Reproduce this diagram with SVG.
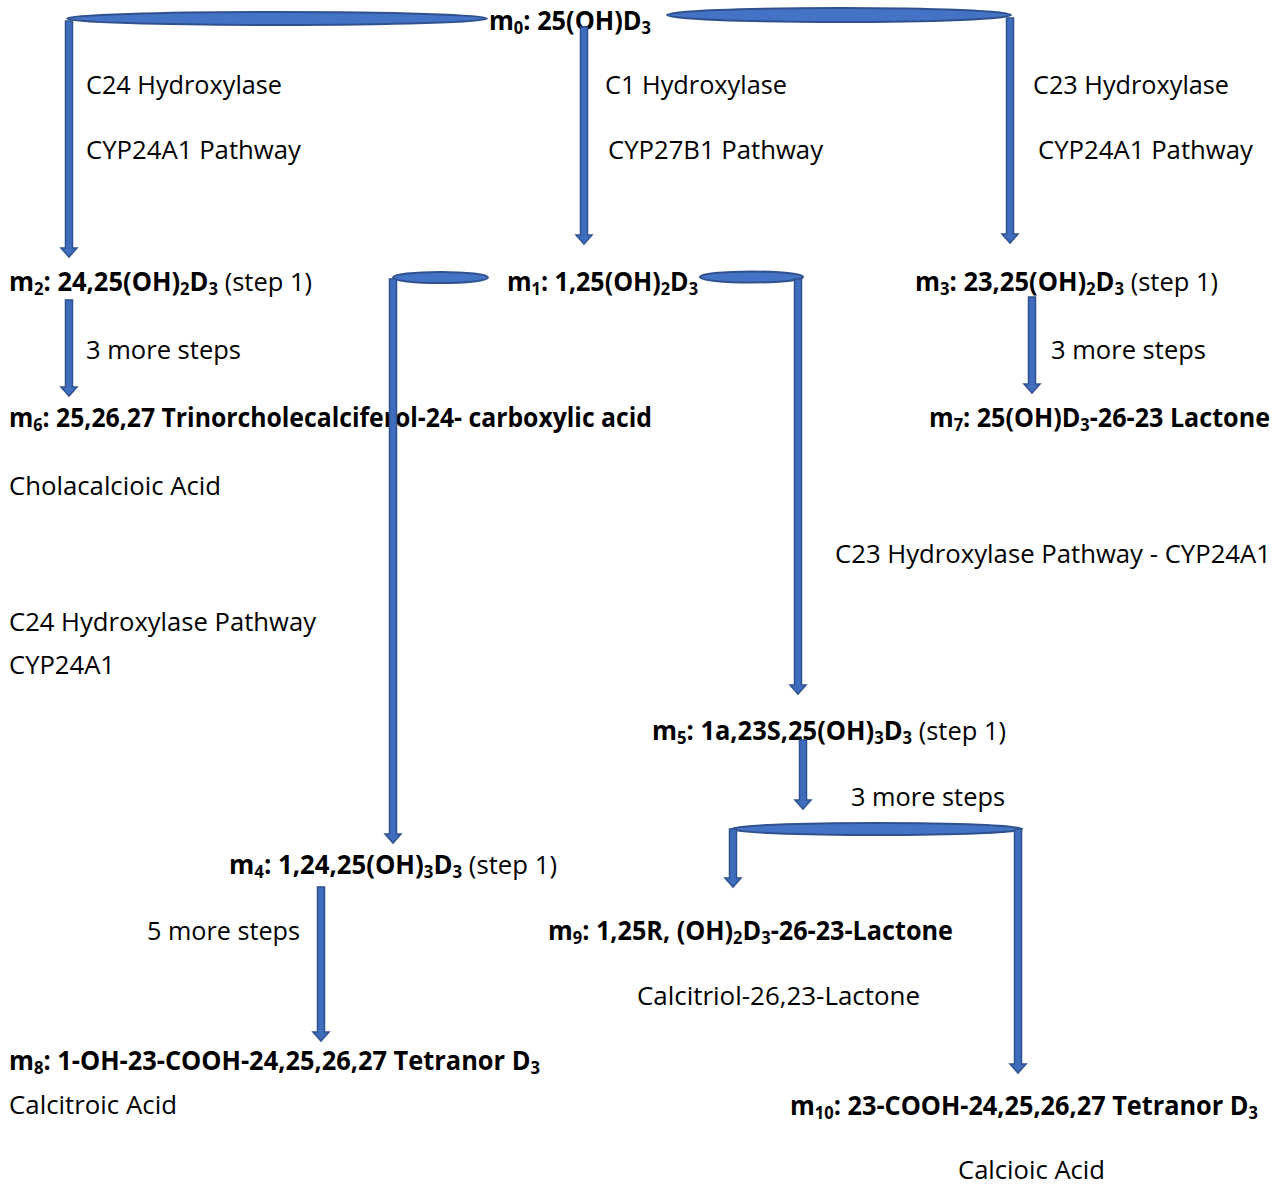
<svg xmlns="http://www.w3.org/2000/svg" width="1284" height="1185" viewBox="0 0 1284 1185">
<style>
  text { font-family: "Open Sans", "Liberation Sans", sans-serif; font-size: 26px; fill: #000; }
  .b { font-weight: bold; }
  .r { font-weight: normal; }
  .s { font-size: 17px; }
  .bar { fill: #4472C4; stroke: #2F528F; stroke-width: 2; }
  .arr { fill: #3F6DBE; stroke: #2F528F; stroke-width: 1.5; stroke-linejoin: miter; }
</style>
<rect width="1284" height="1185" fill="#fff"/>

<g id="labels">
  <text x="86" y="94" textLength="196" lengthAdjust="spacingAndGlyphs">C24 Hydroxylase</text>
  <text x="86" y="159" textLength="215" lengthAdjust="spacingAndGlyphs">CYP24A1 Pathway</text>
  <text x="605" y="94" textLength="182" lengthAdjust="spacingAndGlyphs">C1 Hydroxylase</text>
  <text x="608" y="159" textLength="215" lengthAdjust="spacingAndGlyphs">CYP27B1 Pathway</text>
  <text x="1033" y="94" textLength="196" lengthAdjust="spacingAndGlyphs">C23 Hydroxylase</text>
  <text x="1038" y="159" textLength="215" lengthAdjust="spacingAndGlyphs">CYP24A1 Pathway</text>
  <text x="86" y="359" textLength="155" lengthAdjust="spacingAndGlyphs">3 more steps</text>
  <text x="1051" y="359" textLength="155" lengthAdjust="spacingAndGlyphs">3 more steps</text>
  <text x="835" y="563" textLength="436" lengthAdjust="spacingAndGlyphs">C23 Hydroxylase Pathway - CYP24A1</text>
  <text x="9" y="631" textLength="307" lengthAdjust="spacingAndGlyphs">C24 Hydroxylase Pathway</text>
  <text x="9" y="674" textLength="106" lengthAdjust="spacingAndGlyphs">CYP24A1</text>
  <text x="851" y="806" textLength="154" lengthAdjust="spacingAndGlyphs">3 more steps</text>
  <text x="147" y="940" textLength="153" lengthAdjust="spacingAndGlyphs">5 more steps</text>
</g>

<g id="m0">
  <text x="489" y="30" class="b" textLength="162" lengthAdjust="spacingAndGlyphs">m<tspan class="s" dy="4">0</tspan><tspan dy="-4">: 25(OH)D</tspan><tspan class="s" dy="4">3</tspan></text>
</g>
<g id="m1">
  <text x="507" y="291" class="b" textLength="191" lengthAdjust="spacingAndGlyphs">m<tspan class="s" dy="4">1</tspan><tspan dy="-4">: 1,25(OH)</tspan><tspan class="s" dy="4">2</tspan><tspan dy="-4">D</tspan><tspan class="s" dy="4">3</tspan></text>
</g>
<g id="m2">
  <text x="9" y="291" class="b" textLength="303" lengthAdjust="spacingAndGlyphs">m<tspan class="s" dy="4">2</tspan><tspan dy="-4">: 24,25(OH)</tspan><tspan class="s" dy="4">2</tspan><tspan dy="-4">D</tspan><tspan class="s" dy="4">3</tspan><tspan class="r" dy="-4"> (step 1)</tspan></text>
</g>
<g id="m3">
  <text x="915" y="291" class="b" textLength="303" lengthAdjust="spacingAndGlyphs">m<tspan class="s" dy="4">3</tspan><tspan dy="-4">: 23,25(OH)</tspan><tspan class="s" dy="4">2</tspan><tspan dy="-4">D</tspan><tspan class="s" dy="4">3</tspan><tspan class="r" dy="-4"> (step 1)</tspan></text>
</g>
<g id="m6">
  <text x="9" y="427" class="b" textLength="643" lengthAdjust="spacingAndGlyphs">m<tspan class="s" dy="4">6</tspan><tspan dy="-4">: 25,26,27 Trinorcholecalciferol-24- carboxylic acid</tspan></text>
  <text x="9" y="495" textLength="212" lengthAdjust="spacingAndGlyphs">Cholacalcioic Acid</text>
</g>
<g id="m7">
  <text x="929" y="427" class="b" textLength="341" lengthAdjust="spacingAndGlyphs">m<tspan class="s" dy="4">7</tspan><tspan dy="-4">: 25(OH)D</tspan><tspan class="s" dy="4">3</tspan><tspan dy="-4">-26-23 Lactone</tspan></text>
</g>
<g id="m5">
  <text x="652" y="740" class="b" textLength="354" lengthAdjust="spacingAndGlyphs">m<tspan class="s" dy="4">5</tspan><tspan dy="-4">: 1a,23S,25(OH)</tspan><tspan class="s" dy="4">3</tspan><tspan dy="-4">D</tspan><tspan class="s" dy="4">3</tspan><tspan class="r" dy="-4"> (step 1)</tspan></text>
</g>
<g id="m4">
  <text x="229" y="874" class="b" textLength="328" lengthAdjust="spacingAndGlyphs">m<tspan class="s" dy="4">4</tspan><tspan dy="-4">: 1,24,25(OH)</tspan><tspan class="s" dy="4">3</tspan><tspan dy="-4">D</tspan><tspan class="s" dy="4">3</tspan><tspan class="r" dy="-4"> (step 1)</tspan></text>
</g>
<g id="m9">
  <text x="548" y="940" class="b" textLength="405" lengthAdjust="spacingAndGlyphs">m<tspan class="s" dy="4">9</tspan><tspan dy="-4">: 1,25R, (OH)</tspan><tspan class="s" dy="4">2</tspan><tspan dy="-4">D</tspan><tspan class="s" dy="4">3</tspan><tspan dy="-4">-26-23-Lactone</tspan></text>
  <text x="637" y="1005" textLength="283" lengthAdjust="spacingAndGlyphs">Calcitriol-26,23-Lactone</text>
</g>
<g id="m8">
  <text x="9" y="1070" class="b" textLength="531" lengthAdjust="spacingAndGlyphs">m<tspan class="s" dy="4">8</tspan><tspan dy="-4">: 1-OH-23-COOH-24,25,26,27 Tetranor D</tspan><tspan class="s" dy="4">3</tspan></text>
  <text x="9" y="1114" textLength="168" lengthAdjust="spacingAndGlyphs">Calcitroic Acid</text>
</g>
<g id="m10">
  <text x="790" y="1115" class="b" textLength="468" lengthAdjust="spacingAndGlyphs">m<tspan class="s" dy="4">10</tspan><tspan dy="-4">: 23-COOH-24,25,26,27 Tetranor D</tspan><tspan class="s" dy="4">3</tspan></text>
  <text x="958" y="1179" textLength="147" lengthAdjust="spacingAndGlyphs">Calcioic Acid</text>
</g>

<g id="connectors">
  <ellipse class="bar" cx="277" cy="18.5" rx="210" ry="6.5"/>
  <ellipse class="bar" cx="839" cy="15" rx="172" ry="7"/>
  <ellipse class="bar" cx="440.5" cy="277.5" rx="47.5" ry="5.5"/>
  <ellipse class="bar" cx="751.5" cy="277" rx="51.5" ry="5.5"/>
  <ellipse class="bar" cx="877" cy="829" rx="145" ry="6"/>
  <path class="arr" d="M65.5 21 L72.5 21 L72.5 248 L77 248 L69 257 L61 248 L65.5 248 Z"/>
  <path class="arr" d="M580.5 27 L587.5 27 L587.5 235 L592 235 L584 244 L576 235 L580.5 235 Z"/>
  <path class="arr" d="M1006.5 18 L1013.5 18 L1013.5 234 L1018 234 L1010 243 L1002 234 L1006.5 234 Z"/>
  <path class="arr" d="M65.5 300 L72.5 300 L72.5 387 L77 387 L69 396 L61 387 L65.5 387 Z"/>
  <path class="arr" d="M1028.5 297 L1035.5 297 L1035.5 384 L1040 384 L1032 393 L1024 384 L1028.5 384 Z"/>
  <path class="arr" d="M389.5 279 L396.5 279 L396.5 834 L401 834 L393 843 L385 834 L389.5 834 Z"/>
  <path class="arr" d="M794.5 279 L801.5 279 L801.5 685 L806 685 L798 694 L790 685 L794.5 685 Z"/>
  <path class="arr" d="M799.5 740 L806.5 740 L806.5 800 L811 800 L803 809 L795 800 L799.5 800 Z"/>
  <path class="arr" d="M729.5 829 L736.5 829 L736.5 878 L741 878 L733 887 L725 878 L729.5 878 Z"/>
  <path class="arr" d="M1014.5 829 L1021.5 829 L1021.5 1064 L1026 1064 L1018 1073 L1010 1064 L1014.5 1064 Z"/>
  <path class="arr" d="M317.5 887 L324.5 887 L324.5 1032 L329 1032 L321 1041 L313 1032 L317.5 1032 Z"/>
</g>
</svg>
